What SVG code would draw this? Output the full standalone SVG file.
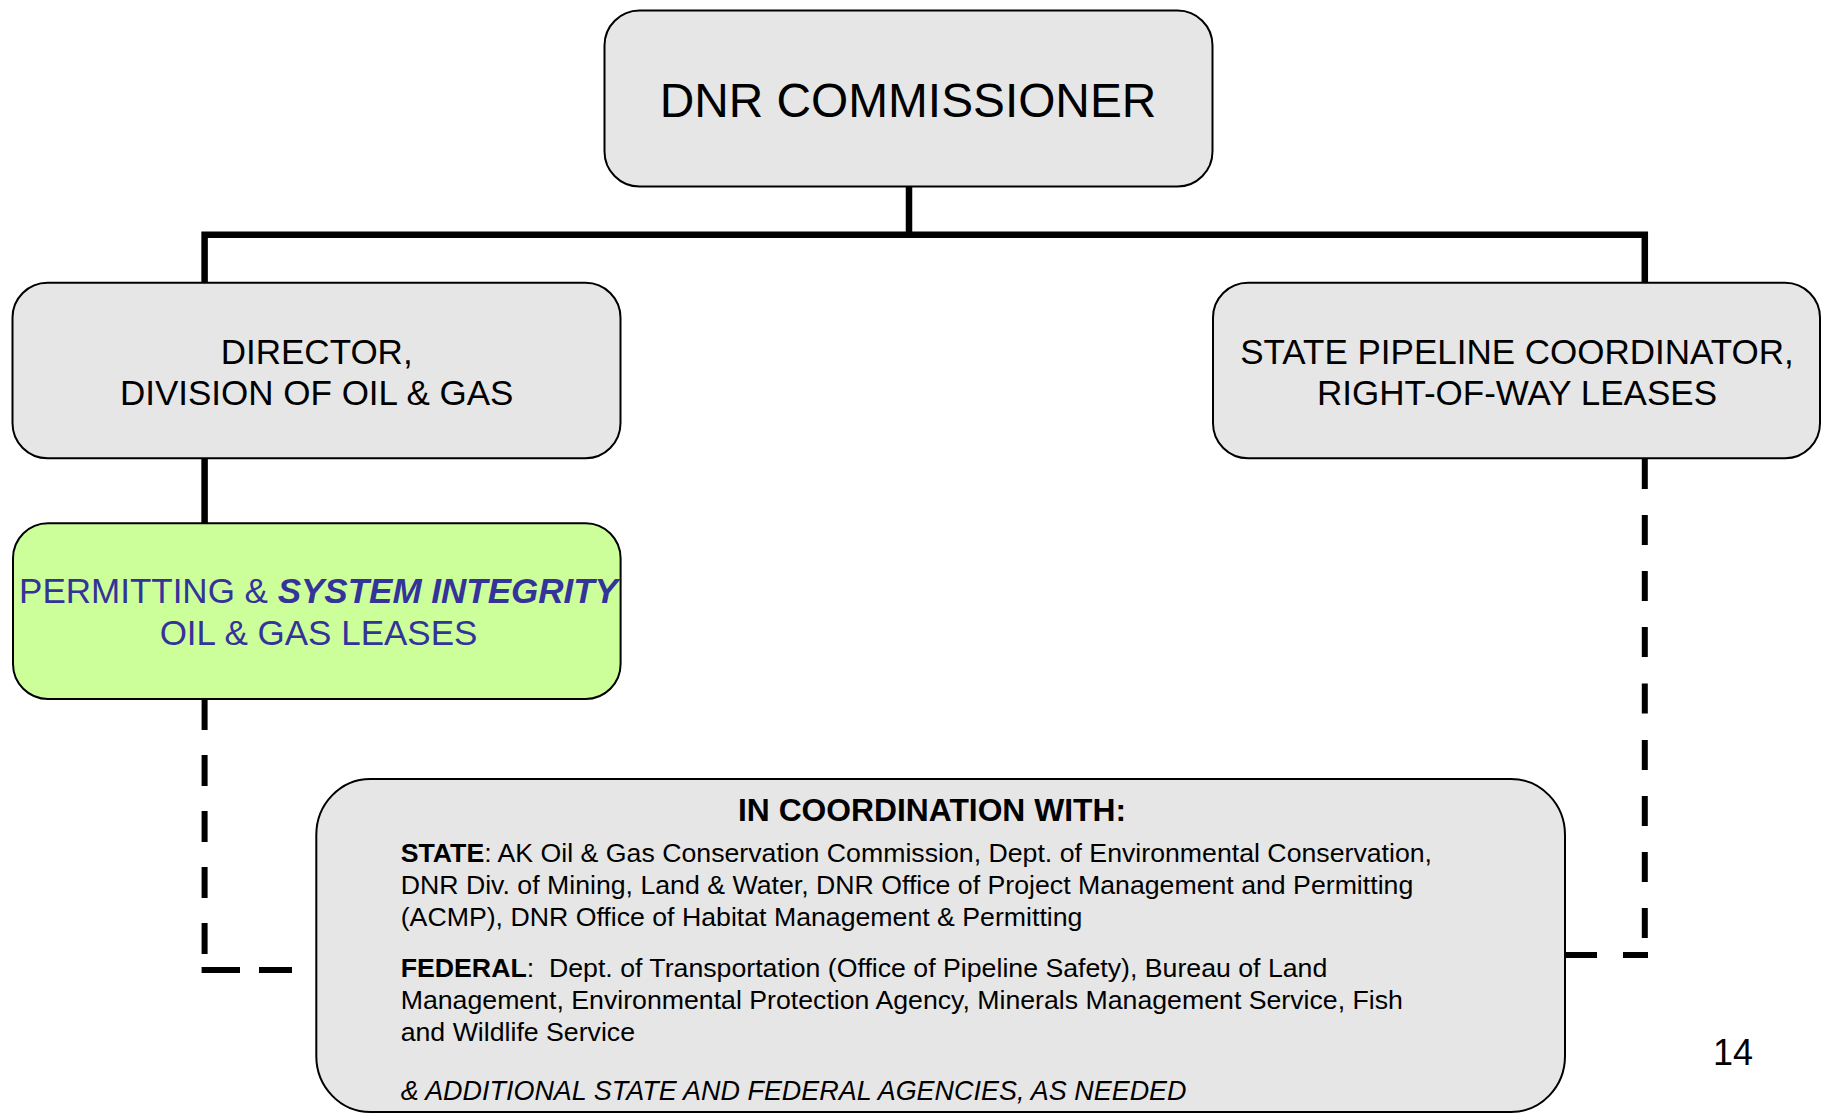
<svg xmlns="http://www.w3.org/2000/svg" width="1830" height="1113" viewBox="0 0 1830 1113">
<style>
  .box { fill: #e6e6e6; stroke: #000; stroke-width: 2; }
  .green { fill: #ccff99; stroke: #000; stroke-width: 2; }
  .t { font-family: "Liberation Sans", Arial, sans-serif; fill: #000; }
  .title { font-size: 47.8px; text-anchor: middle; }
  .lbl { font-size: 35px; text-anchor: middle; }
  .blue { fill: #333399; }
  .body { font-size: 26.7px; }
  .b { font-weight: bold; }
  .bi { font-weight: bold; font-style: italic; }
  .i { font-style: italic; font-size: 26.95px; }
  .solid { stroke: #000; stroke-width: 6.5; fill: none; }
  .dash { stroke: #000; stroke-width: 6; fill: none; }
</style>
<g id="connectors">
  <path class="solid" d="M909,186.7 V234.8 M204.6,234.8 H1644.8 M204.6,231.5 V283 M1644.8,231.5 V283 M204.6,458.3 V523.3"/>
  <path class="dash" d="M204.6,699 V730 M204.6,755 V786 M204.6,811 V842 M204.6,867 V898 M204.6,923 V954 M201.6,970 H240 M259,970 H292"/>
  <path class="dash" d="M1644.8,458.3 V489 M1644.8,515 V545 M1644.8,571 V601 M1644.8,627 V657 M1644.8,683.5 V713.5 M1644.8,740 V770 M1644.8,796 V826 M1644.8,852 V882 M1644.8,908 V938 M1566,955 H1597 M1623,955 H1648"/>
</g>
<g id="n-commissioner">
  <rect class="box" x="604.5" y="10.5" width="608" height="176" rx="35" ry="35"/>
  <text class="t title" x="908" y="117">DNR COMMISSIONER</text>
</g>
<g id="n-director">
  <rect class="box" x="12.5" y="282.7" width="608" height="175.6" rx="35" ry="35"/>
  <text class="t lbl" x="316.7" y="363.5">DIRECTOR,</text>
  <text class="t lbl" x="316.7" y="404.5">DIVISION OF OIL &amp; GAS</text>
</g>
<g id="n-pipeline">
  <rect class="box" x="1213" y="282.7" width="607" height="175.6" rx="35" ry="35"/>
  <text class="t lbl" x="1517" y="363.5">STATE PIPELINE COORDINATOR,</text>
  <text class="t lbl" x="1517" y="404.5">RIGHT-OF-WAY LEASES</text>
</g>
<g id="n-permitting">
  <rect class="green" x="13" y="523.3" width="607.6" height="175.7" rx="35" ry="35"/>
  <text class="t lbl blue" x="318.5" y="603">PERMITTING &amp; <tspan class="bi">SYSTEM INTEGRITY</tspan></text>
  <text class="t lbl blue" x="318.5" y="645">OIL &amp; GAS LEASES</text>
</g>
<g id="n-coordination">
  <rect class="box" x="316.3" y="779" width="1248.7" height="333" rx="54" ry="56"/>
  <text class="t b" x="932" y="820.7" font-size="31.8" text-anchor="middle">IN COORDINATION WITH:</text>
  <text class="t body" x="400.7" y="862.3"><tspan class="b">STATE</tspan>: AK Oil &amp; Gas Conservation Commission, Dept. of Environmental Conservation,</text>
  <text class="t body" x="400.7" y="894.3">DNR Div. of Mining, Land &amp; Water, DNR Office of Project Management and Permitting</text>
  <text class="t body" x="400.7" y="926">(ACMP), DNR Office of Habitat Management &amp; Permitting</text>
  <text class="t body" x="400.7" y="977.3"><tspan class="b">FEDERAL</tspan>:&#160; Dept. of Transportation (Office of Pipeline Safety), Bureau of Land</text>
  <text class="t body" x="400.7" y="1009.3">Management, Environmental Protection Agency, Minerals Management Service, Fish</text>
  <text class="t body" x="400.7" y="1041">and Wildlife Service</text>
  <text class="t body i" x="400.7" y="1100">&amp; ADDITIONAL STATE AND FEDERAL AGENCIES, AS NEEDED</text>
</g>
<text id="page-number" class="t" x="1733" y="1065" font-size="36" text-anchor="middle">14</text>
</svg>
